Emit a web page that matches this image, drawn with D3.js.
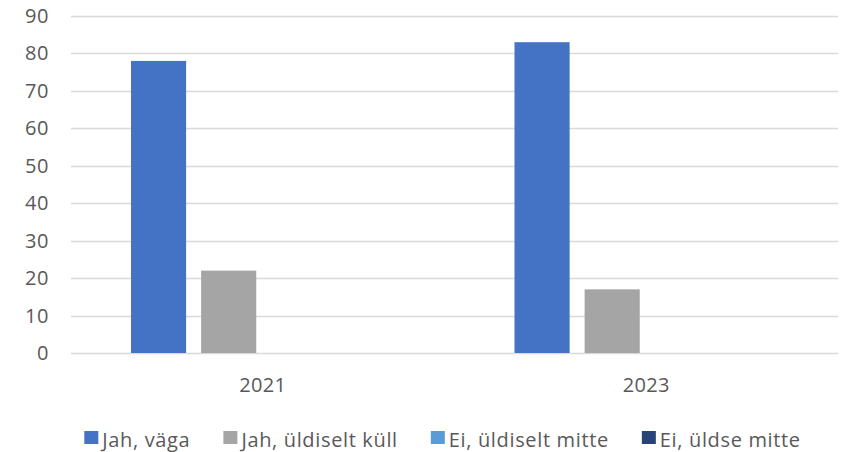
<!DOCTYPE html>
<html>
<head>
<meta charset="utf-8">
<script src="https://cdn.jsdelivr.net/npm/d3@7"></script>
<style>
  body { margin: 0; background: #fff; }
  text { font-family: "Open Sans", Lato, sans-serif; fill: #595959; }
</style>
</head>
<body>
<div id="chart"></div>
<script>
var years = ["2021", "2023"];
var seriesNames = ["Jah, väga", "Jah, üldiselt küll", "Ei, üldiselt mitte", "Ei, üldse mitte"];
var seriesColors = ["#4472C4", "#A5A5A5", "#5B9BD5", "#264478"];
var vaga = [78, 83];
var kyll = [22, 17];
var eiMitte = [0, 0];
var eiYldse = [0, 0];
var yTicks = [0, 10, 20, 30, 40, 50, 60, 70, 80, 90];

var seriesValues = [vaga, kyll, eiMitte, eiYldse];

var W = 841, H = 452;
var margin = {top: 16, right: 3, bottom: 99, left: 71},
    width = W - margin.left - margin.right,
    height = H - margin.top - margin.bottom;

var svg = d3.select("#chart").append("svg")
    .attr("width", W)
    .attr("height", H);

var g = svg.append("g")
    .attr("transform", "translate(" + margin.left + "," + margin.top + ")");

var x0 = d3.scaleBand()
    .domain(years)
    .range([0, width])
    .paddingInner(0)
    .paddingOuter(0);

// group of 4 bars, 55px wide with 15px gaps inside a 383px band
var x1 = d3.scaleBand()
    .domain(seriesNames)
    .range([60, x0.bandwidth() - 58])
    .paddingInner(0.214)
    .paddingOuter(0);

var y = d3.scaleLinear()
    .domain([0, 90])
    .range([height, 0]);

// gridlines
g.selectAll(".grid")
    .data(yTicks)
    .enter()
    .append("line")
    .attr("x1", 0)
    .attr("x2", width)
    .attr("y1", function(d) { return Math.round(y(d)) + 0.5; })
    .attr("y2", function(d) { return Math.round(y(d)) + 0.5; })
    .attr("stroke", "#D9D9D9")
    .attr("stroke-width", 1.3);

// y labels
g.selectAll(".ylab")
    .data(yTicks)
    .enter()
    .append("text")
    .attr("x", -22)
    .attr("y", function(d) { return y(d); })
    .attr("dy", "0.35em")
    .attr("text-anchor", "end")
    .style("font-size", "20px")
    .style("letter-spacing", "0.6px")
    .text(function(d) { return d; });

// bars
var rows = [];
years.forEach(function(yr, i) {
    seriesNames.forEach(function(s, j) {
        rows.push({year: yr, series: s, value: seriesValues[j][i], color: seriesColors[j]});
    });
});

g.selectAll(".bar")
    .data(rows)
    .enter()
    .append("rect")
    .attr("x", function(d) { return x0(d.year) + x1(d.series); })
    .attr("y", function(d) { return y(d.value); })
    .attr("width", x1.bandwidth())
    .attr("height", function(d) { return y(0) - y(d.value); })
    .style("fill", function(d) { return d.color; });

// x labels
g.selectAll(".xlab")
    .data(years)
    .enter()
    .append("text")
    .attr("x", function(d) { return x0(d) + x0.bandwidth() / 2; })
    .attr("y", height + 39)
    .attr("text-anchor", "middle")
    .style("font-size", "20px")
    .style("letter-spacing", "0.3px")
    .text(function(d) { return d; });

// legend
var legend = svg.append("g");
var items = legend.selectAll(".leg")
    .data(seriesNames)
    .enter()
    .append("g");

items.append("rect")
    .attr("width", 14)
    .attr("height", 13)
    .attr("y", 431)
    .style("fill", function(d, i) { return seriesColors[i]; });

items.append("text")
    .attr("x", 18)
    .attr("y", 446.5)
    .style("font-size", "20px")
    .style("letter-spacing", "0.65px")
    .text(function(d) { return d; });

var pos = 0, offsets = [];
items.each(function() {
    offsets.push(pos);
    pos += this.getBBox().width + 33;
});
var total = pos - 33;
var start = 442.5 - total / 2;
items.attr("transform", function(d, i) { return "translate(" + (start + offsets[i]) + ",0)"; });
</script>
</body>
</html>
